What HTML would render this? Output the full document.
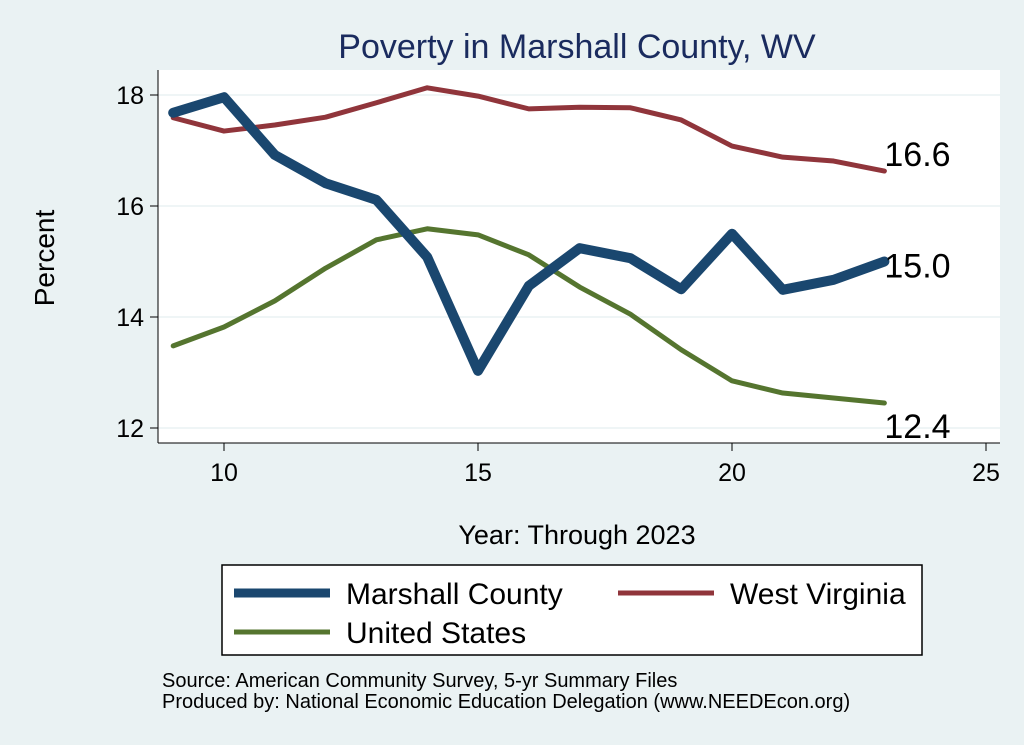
<!DOCTYPE html>
<html><head><meta charset="utf-8"><style>
body{margin:0;background:#eaf2f3;}
svg{display:block;font-family:"Liberation Sans",Arial,sans-serif;}
</style></head><body>
<svg id="chart" width="1024" height="745">
<rect x="0" y="0" width="1024" height="745" fill="#eaf2f3"/>
<text x="577" y="58" text-anchor="middle" font-size="34" fill="#1a2b5e">Poverty in Marshall County, WV</text>
<rect x="158" y="70" width="842" height="373" fill="#fff"/>
<g id="grid"></g><g id="axes"></g><g id="series"></g>
<text x="54" y="258" text-anchor="middle" font-size="28" transform="rotate(-90 54 258)">Percent</text>
<text x="577" y="544" text-anchor="middle" font-size="27">Year: Through 2023</text>
<g>
<rect x="222" y="565" width="700" height="90" fill="#fff" stroke="#000" stroke-width="1.5"/>
<line x1="234" y1="593" x2="330" y2="593" stroke="#1a476f" stroke-width="9"/>
<text x="346" y="604" font-size="30">Marshall County</text>
<line x1="618" y1="593" x2="714" y2="593" stroke="#90353b" stroke-width="5"/>
<text x="730" y="604" font-size="30">West Virginia</text>
<line x1="234" y1="632" x2="330" y2="632" stroke="#55752f" stroke-width="5"/>
<text x="346" y="643" font-size="30">United States</text>
</g>
<text x="162" y="687" font-size="20">Source: American Community Survey, 5-yr Summary Files</text>
<text x="162" y="708" font-size="20">Produced by: National Economic Education Delegation (www.NEEDEcon.org)</text>
</svg>
<script>
const years=[9,10,11,12,13,14,15,16,17,18,19,20,21,22,23];
const marshall=[17.68,17.96,16.92,16.41,16.11,15.08,13.03,14.56,15.24,15.06,14.50,15.50,14.49,14.67,15.0];
const westVirginia=[17.59,17.35,17.46,17.6,17.86,18.13,17.98,17.75,17.78,17.77,17.55,17.08,16.88,16.81,16.63];
const unitedStates=[13.48,13.82,14.29,14.88,15.39,15.59,15.48,15.12,14.54,14.05,13.41,12.85,12.63,12.54,12.45];
const xTicks=[10,15,20,25];
const yTicks=[12,14,16,18];
const endLabels=["15.0","16.6","12.4"];
const NS="http://www.w3.org/2000/svg";
const X=v=>224+(v-10)*50.8;
const Y=v=>428-(v-12)*55.5;
function mk(t,a,p){const e=document.createElementNS(NS,t);for(const k in a)e.setAttribute(k,a[k]);p.appendChild(e);return e;}
const grid=document.getElementById('grid'),axes=document.getElementById('axes'),ser=document.getElementById('series');
yTicks.forEach(t=>{
 const g=mk('line',{x1:158,x2:1000,y1:Y(t),y2:Y(t),stroke:'#eaf2f3','stroke-width':1.5},grid);
 
 
 const tk=mk('line',{x1:150,x2:158,y1:Y(t),y2:Y(t),stroke:'#000'},axes);
 
 
 const l=mk('text',{x:144,y:Y(t)+9,'text-anchor':'end','font-size':25},axes);l.textContent=t;
 
 
});
xTicks.forEach(t=>{
 const tk=mk('line',{x1:X(t),x2:X(t),y1:443,y2:451,stroke:'#000'},axes);
 
 
 const l=mk('text',{x:X(t),y:481,'text-anchor':'middle','font-size':25},axes);l.textContent=t;
 
 
});
const ax1=mk('line',{x1:158,x2:158,y1:70,y2:443,stroke:'#000'},axes);


const ax2=mk('line',{x1:158,x2:1000,y1:443,y2:443,stroke:'#000'},axes);


function line(vals,color,w,name,label,dy){
 const p=mk('polyline',{points:years.map((y,i)=>X(y)+','+Y(vals[i])).join(' '),fill:'none',stroke:color,'stroke-width':w,'stroke-linejoin':'round','stroke-linecap':'round'},ser);
 
 
 const n=vals.length-1;
 const t=mk('text',{x:X(years[n])+0,y:Y(vals[n])+dy,'font-size':34},ser);t.textContent=label;
 
 
}
line(westVirginia,'#90353b',5,'line-west-virginia',endLabels[1],-5);
line(unitedStates,'#55752f',5,'line-united-states',endLabels[2],35);
line(marshall,'#1a476f',10,'line-marshall-county',endLabels[0],16);
</script>
</body></html>
